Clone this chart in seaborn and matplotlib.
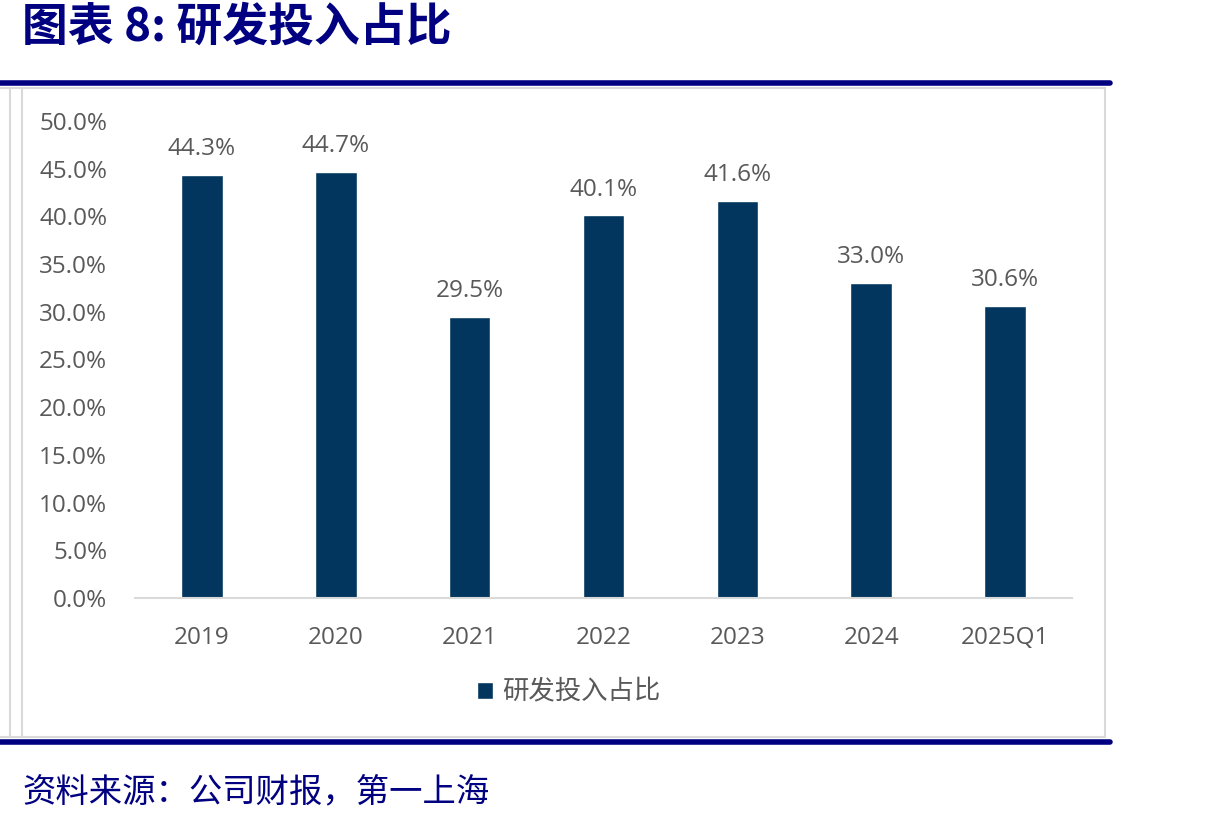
"""R&D spending ratio bar chart."""

import matplotlib
matplotlib.use("Agg")
import matplotlib.pyplot as plt
from matplotlib.lines import Line2D
from matplotlib.patches import Patch
import pandas as pd
import seaborn as sns

years = ["2019", "2020", "2021", "2022", "2023", "2024", "2025Q1"]
rd_ratio = [44.3, 44.7, 29.5, 40.1, 41.6, 33.0, 30.6]
yticks = [0, 5, 10, 15, 20, 25, 30, 35, 40, 45, 50]
series_name = "研发投入占比"
title = "图表 8: 研发投入占比"
source = "资料来源：公司财报，第一上海"

BAR = "#02365E"
NAVY = "#000080"
GRAY_TXT = "#595959"
GRAY_LINE = "#D9D9D9"

W, H = 1229, 823

sns.set_theme(style="white")
plt.rcParams["font.family"] = ["Open Sans", "Noto Sans CJK SC", "DejaVu Sans"]

df = pd.DataFrame({"year": years, "ratio": rd_ratio})

fig = plt.figure(figsize=(W / 100, H / 100), dpi=100)
fig.patch.set_facecolor("white")


def fx(px):
    return px / W


def fy(px):
    return 1 - px / H


# frame lines around the chart area
for x0, y0, x1, y1 in [(0, 88, 1105, 88), (0, 737, 1105, 737),
                       (10, 88, 10, 737), (22, 88, 22, 737),
                       (1105, 88, 1105, 737)]:
    fig.add_artist(Line2D([fx(x0), fx(x1)], [fy(y0), fy(y1)],
                          color=GRAY_LINE, lw=1.5))

# navy rules
for y in (83, 742):
    fig.add_artist(Line2D([0, fx(1110)], [fy(y), fy(y)], color=NAVY, lw=4))

ax = fig.add_axes([fx(135), fy(598), fx(1072) - fx(135), fy(121) - fy(598)])
sns.barplot(data=df, x="year", y="ratio", color=BAR, width=0.31,
            saturation=1, ax=ax)
ax.bar_label(ax.containers[0], fmt="%.1f%%", padding=10,
             fontsize=17.5, color=GRAY_TXT)

ax.set_ylim(0, 50)
ax.set_yticks(yticks)
ax.set_yticklabels([f"{v:.1f}%" for v in yticks])
ax.set_xlim(-0.5, len(years) - 0.5)
ax.set_xlabel("")
ax.set_ylabel("")
ax.tick_params(axis="both", labelsize=17.5, colors=GRAY_TXT, length=0)
ax.tick_params(axis="y", pad=20)
ax.tick_params(axis="x", pad=20)
for side in ("top", "right", "left"):
    ax.spines[side].set_visible(False)
ax.spines["bottom"].set_color(GRAY_LINE)
ax.spines["bottom"].set_linewidth(1.5)
ax.patch.set_alpha(0)

fig.legend(handles=[Patch(facecolor=BAR, label=series_name)],
           loc="center", bbox_to_anchor=(fx(569), fy(692)), frameon=False,
           handlelength=0.6, handleheight=0.6, handletextpad=0.35,
           prop={"family": ["Noto Sans CJK SC"], "size": 19},
           labelcolor=GRAY_TXT)

fig.text(fx(22), fy(28), title, color=NAVY, fontsize=33, fontweight="bold",
         va="center", ha="left", family=["Noto Sans CJK SC", "DejaVu Sans"])
fig.text(fx(22), fy(792), source, color=NAVY, fontsize=24,
         va="center", ha="left", family=["Noto Sans CJK SC", "DejaVu Sans"])

fig.savefig("out.png", dpi=100, facecolor="white")
